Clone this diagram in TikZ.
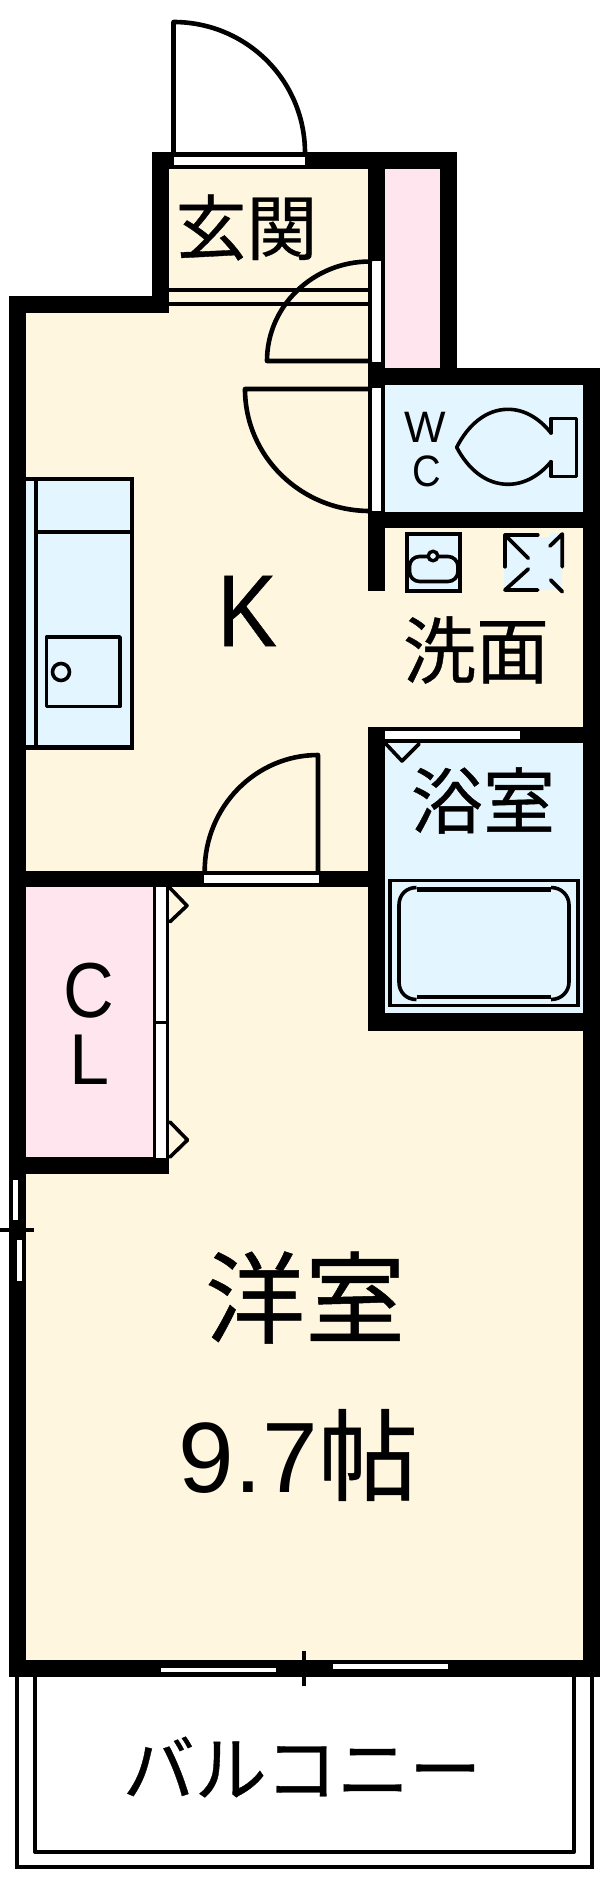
\documentclass[tikz,border=0pt]{standalone}
\usepackage{fontspec}
\setmainfont{Liberation Sans}
\newfontfamily\cjk[FakeBold=0.5]{Noto Sans CJK JP}
\newfontfamily\latb[FakeBold=0.4]{Liberation Sans}
\definecolor{floorc}{HTML}{FFF6E0}
\definecolor{bluec}{HTML}{E3F5FF}
\definecolor{pinkc}{HTML}{FFE6EE}
\tikzset{
 wall/.style={fill=black,draw=none},
 slot/.style={fill=white,draw=none},
 ln/.style={draw=black,line width=4.6pt,line cap=round,line join=round},
 thin ln/.style={draw=black,line width=3.2pt,line cap=round,line join=round},
 lbl/.style={inner sep=0pt,outer sep=0pt,anchor=center,text=black},
 jp/.style={lbl,font=\cjk\fontsize{#1}{#1}\selectfont},
 lat/.style={lbl,font=\fontsize{#1}{#1}\selectfont}
}
\begin{document}
\begin{tikzpicture}[x=1pt,y=-1pt]
\useasboundingbox (0,0) rectangle (600,1891);
\fill[white] (0,0) rectangle (600,1891);
% floors
\fill[floorc] (25,313) rectangle (368,1662);
\fill[floorc] (368,528) rectangle (583,1662);
\fill[floorc] (169,169) rectangle (368,314);
\fill[pinkc] (384,169) rectangle (440,368);
\fill[bluec] (384,385) rectangle (583,512);
\fill[bluec] (384,743) rectangle (583,1014);
\fill[pinkc] (25,887) rectangle (153,1158);
% walls
\fill[wall] (152,152.3) rectangle (456.5,169.3);
\fill[wall] (152,152.3) rectangle (169,313.3);
\fill[wall] (8.5,295.7) rectangle (169,313.3);
\fill[wall] (8.5,295.7) rectangle (25.6,1180);
\fill[wall] (8.5,1180) rectangle (26,1281);
\fill[wall] (8.5,1281) rectangle (25.6,1676.7);
\fill[wall] (368,152.3) rectangle (384.6,385);
\fill[wall] (439.5,152.3) rectangle (456.5,385);
\fill[wall] (368,367.7) rectangle (600,385);
\fill[wall] (583,367.7) rectangle (600,1676.7);
\fill[wall] (368,385) rectangle (384.6,591);
\fill[wall] (368,511.7) rectangle (600,528.3);
\fill[wall] (368,726.7) rectangle (600,743.3);
\fill[wall] (368,726.7) rectangle (384.6,1030.7);
\fill[wall] (368,1013.3) rectangle (600,1030.7);
\fill[wall] (25,870.7) rectangle (368,887);
\fill[wall] (8.5,1157.3) rectangle (169,1174);
\fill[wall] (8.5,1660) rectangle (600,1676.7);
% slots
\fill[slot] (173.5,157) rectangle (305,165);
\fill[slot] (372,261) rectangle (381,361.7);
\fill[slot] (372,388) rectangle (381,511);
\fill[slot] (384.6,731) rectangle (519.7,739.3);
\fill[slot] (203.6,874.7) rectangle (318.8,883);
\fill[slot] (12.7,1180) rectangle (17.7,1220);
\fill[slot] (16.7,1240) rectangle (21.7,1281);
\fill[slot] (160.7,1667.7) rectangle (275.5,1672.3);
\fill[slot] (333,1664.3) rectangle (447.8,1669);
% closet doors column
\fill[wall] (153,887) rectangle (169,1158);
\fill[slot] (156.3,887) rectangle (165.7,1020.8);
\fill[slot] (156.3,1023.8) rectangle (165.7,1158);
% entry steps
\draw[thin ln,line cap=butt,line width=4pt] (169,290) -- (368,290);
\draw[thin ln,line cap=butt,line width=4pt] (169,304.3) -- (368,304.3);
% doors
\draw[ln] (173.5,153) -- (173.5,22) .. controls (246,22) and (305,80) .. (305,153);
\draw[ln] (370,261.5) .. controls (313,261.5) and (267,306) .. (267,361) -- (370,361);
\draw[ln] (370,389) -- (245,389) .. controls (245,456.4) and (301,511) .. (370,511);
\draw[ln] (204.7,871) .. controls (204.7,807) and (255.5,755) .. (318,755) -- (318,871);
\draw[thin ln,line width=3.6pt] (386,744) -- (402,761) -- (419,744);
\draw[thin ln,line width=3.6pt] (170,888) -- (187,905.7) -- (170,921.7);
\draw[thin ln,line width=3.6pt] (170,1122) -- (187.5,1140) -- (170,1157);
% kitchen
\fill[bluec] (25.6,476.7) rectangle (132,749);
\draw[ln,line cap=butt,line join=miter] (25.6,479) -- (132,479) -- (132,747.5) -- (25.6,747.5);
\draw[thin ln,line cap=butt,line width=4pt] (35.6,479) -- (35.6,747.5);
\draw[thin ln,line cap=butt,line width=4pt] (35.6,532.3) -- (132,532.3);
\draw[thin ln,line width=3.6pt] (46.5,637) rectangle (120,706.5);
\draw[thin ln,line width=3.6pt] (61,672) circle[radius=8.5pt];
% toilet
\draw[thin ln,line width=3.6pt] (551,433) -- (551,418.5) -- (576.5,418.5) -- (576.5,476.5) -- (551,476.5) -- (551,461.7);
\draw[thin ln,line width=3.6pt] (551,433) .. controls (540,419) and (525,409.3) .. (508,409.3) .. controls (486,409.3) and (468,425) .. (456.7,447.3) .. controls (468,469) and (486,484.3) .. (508,484.3) .. controls (525,484.3) and (540,475) .. (551,461.7);
% wash basin
\fill[bluec] (407,534) rectangle (460,591);
\draw[ln,line join=miter,line width=4pt] (407,534) rectangle (460,591);
\draw[thin ln,fill=bluec,line width=3.6pt,rounded corners=10pt] (409.5,556.5) rectangle (458,581.5);
\draw[thin ln,fill=bluec,line width=3.4pt] (433,556) circle[radius=4.8pt];
% washing machine
\fill[bluec] (503.5,533) rectangle (562,590);
\fill[floorc] (537.7,533) rectangle (550,536.5);
\draw[thin ln,line width=3.8pt] (537.7,535) -- (505,535) -- (505,566.7);
\draw[thin ln,line width=3.8pt] (505,535) -- (528.3,558.3);
\draw[thin ln,line width=3.8pt] (537.7,590) -- (505,590) -- (528.3,569);
\draw[thin ln,line width=3.8pt] (550,546) -- (562.3,534) -- (562.3,566.7);
\draw[thin ln,line width=3.8pt] (550.7,580) -- (562.3,591.7);
% bathtub
\draw[thin ln,line cap=butt,line join=miter] (390,880.5) rectangle (578,1005.5);
\draw[thin ln,line width=4.4pt,line cap=butt] (416.5,889.5) -- (551,889.5);
\draw[thin ln,line width=4.4pt,line cap=butt] (416.5,996.7) -- (551,996.7);
\draw[thin ln,line width=3.6pt,line cap=butt] (416.5,887.5) .. controls (406,887.5) and (399,895) .. (399,905) -- (399,982) .. controls (399,992) and (406,999.5) .. (416.5,999.5);
\draw[thin ln,line width=3.6pt,line cap=butt] (551,887.5) .. controls (561,887.5) and (569,895) .. (569,905) -- (569,982) .. controls (569,992) and (561,999.5) .. (551,999.5);
% windows crosses
\draw[ln,line cap=butt] (0,1230) -- (34,1230);
\draw[ln,line cap=butt] (304,1651) -- (304,1685.7);
% balcony
\draw[thin ln,line width=4.4pt,line cap=butt,line join=miter] (17,1676) -- (17,1866.7) -- (592,1866.7) -- (592,1676);
\draw[thin ln,line width=4.4pt,line cap=butt,line join=round] (35,1676) -- (35,1851.7) -- (574,1851.7) -- (574,1676);
% labels
\node[jp=71] (genkan) at (246.5,227.5) {玄関};
\node[jp=73] (senmen) at (476,650) {洗面};
\node[jp=72] (yokushitsu) at (483,800.5) {浴室};
\node[jp=100] (yoshitsu) at (305,1297.5) {洋室};
\node[lbl] (size) at (298.5,1455) {\fontsize{100}{100}\selectfont 9.7\cjk 帖};
\node[jp=72] (balcony) at (302,1767) {バルコニー};
\node[lat=102] (kitchen) at (247,611) {\latb\scalebox{.88}[1]{K}};
\node[lat=78] (closetc) at (89,991) {\scalebox{.9}[1]{C}};
\node[lat=72] (closetl) at (90,1060) {L};
\node[lat=44] (wcw) at (425.7,427) {W};
\node[lat=44] (wcc) at (426.7,471) {\scalebox{.9}[1]{C}};
\end{tikzpicture}
\end{document}
